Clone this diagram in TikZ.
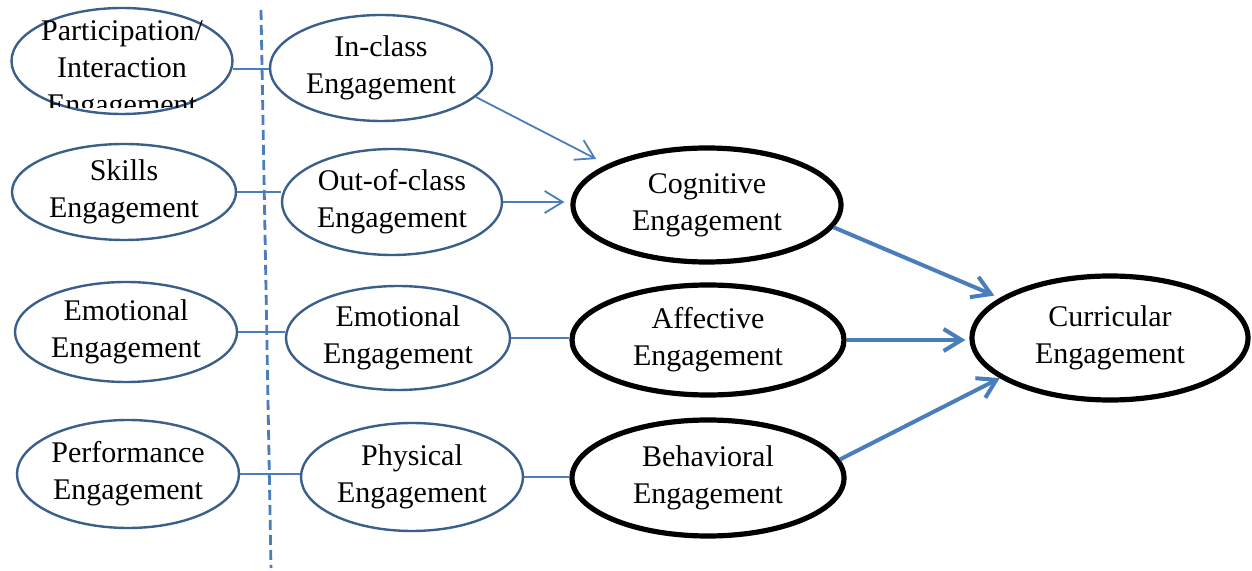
\documentclass[tikz,border=0pt]{standalone}
\usepackage{fontspec}
\setmainfont{Liberation Serif}
\usetikzlibrary{arrows.meta,shapes.geometric}
\definecolor{ovalblue}{HTML}{3A5F8B}
\definecolor{linkblue}{HTML}{4A7EBB}
\tikzset{
  oval/.style={ellipse, draw=ovalblue, line width=1.2pt, inner sep=0pt, align=center,
    font=\fontsize{15}{18.5}\selectfont},
  bigoval/.style={ellipse, draw=black, line width=2.6pt, inner sep=0pt, align=center,
    font=\fontsize{15}{18.5}\selectfont},
  link/.style={draw=linkblue, line width=0.9pt},
  biglink/.style={draw=linkblue, line width=2pt},
  barb/.style={-{Straight Barb[length=9pt,width=11pt]}}
}
\begin{document}
\begin{tikzpicture}[x=0.5pt,y=-0.5pt]
\useasboundingbox (0,0) rectangle (1252,571);
% divider
\coordinate (divtop) at (261,10);
\coordinate (divbot) at (271,568);
\draw[linkblue, line width=1.4pt, dash pattern=on 5pt off 2.5pt] (divtop) -- (divbot);
% left column
\node[oval, minimum width=110.5pt, minimum height=53pt] (part) at (122,61) {};
\begin{scope}
\clip (0,0) rectangle (260,108);
\node[align=center, font=\fontsize{15}{18.5}\selectfont] (parttext) at (122,71)
  {Participation/\\Interaction\\Engagement};
\end{scope}
\node[oval, minimum width=112pt, minimum height=48pt] (skill) at (124,192) {Skills\\Engagement};
\node[oval, minimum width=111pt, minimum height=50pt] (emoa) at (126,332) {Emotional\\Engagement};
\node[oval, minimum width=111pt, minimum height=54pt] (perf) at (128,474) {Performance\\Engagement};
% middle column
\node[oval, minimum width=111pt, minimum height=53pt] (incl) at (381,68) {In-class\\Engagement};
\node[oval, minimum width=110pt, minimum height=53pt] (outcl) at (392,202) {Out-of-class\\Engagement};
\node[oval, minimum width=112pt, minimum height=52pt] (emob) at (398,338) {Emotional\\Engagement};
\node[oval, minimum width=111pt, minimum height=54pt] (phys) at (412,477) {Physical\\Engagement};
% right column
\node[bigoval, minimum width=134pt, minimum height=57pt] (cog) at (707,205) {Cognitive\\Engagement};
\node[bigoval, minimum width=136pt, minimum height=55pt] (aff) at (708,340) {Affective\\Engagement};
\node[bigoval, minimum width=136pt, minimum height=58pt] (beh) at (708,478) {Behavioral\\Engagement};
\node[bigoval, minimum width=138pt, minimum height=62pt] (curr) at (1110,338) {Curricular\\Engagement};
% left to middle
\draw[link] (part.-4) -- (part.-4 -| incl.west);
\draw[link] (skill.east) -- (skill.east -| outcl.west);
\draw[link] (emoa.east) -- (emoa.east -| emob.west);
\draw[link] (perf.east) -- (perf.east -| phys.west);
% middle to right
\draw[link, barb, shorten >=6pt] (incl.-17) -- (cog.158);
\draw[link, barb, shorten >=3pt] (outcl.east) -- (outcl.east -| cog.west);
\draw[link] (emob.east) -- (emob.east -| aff.west);
\draw[link] (phys.east) -- (phys.east -| beh.west);
% right to curricular
\draw[biglink, barb, shorten >=3pt] (cog.-10) -- (curr.160);
\draw[biglink, barb, shorten >=2pt] (aff.east) -- (aff.east -| curr.west);
\draw[biglink, barb] (beh.8) -- (curr.200);
\end{tikzpicture}
\end{document}
